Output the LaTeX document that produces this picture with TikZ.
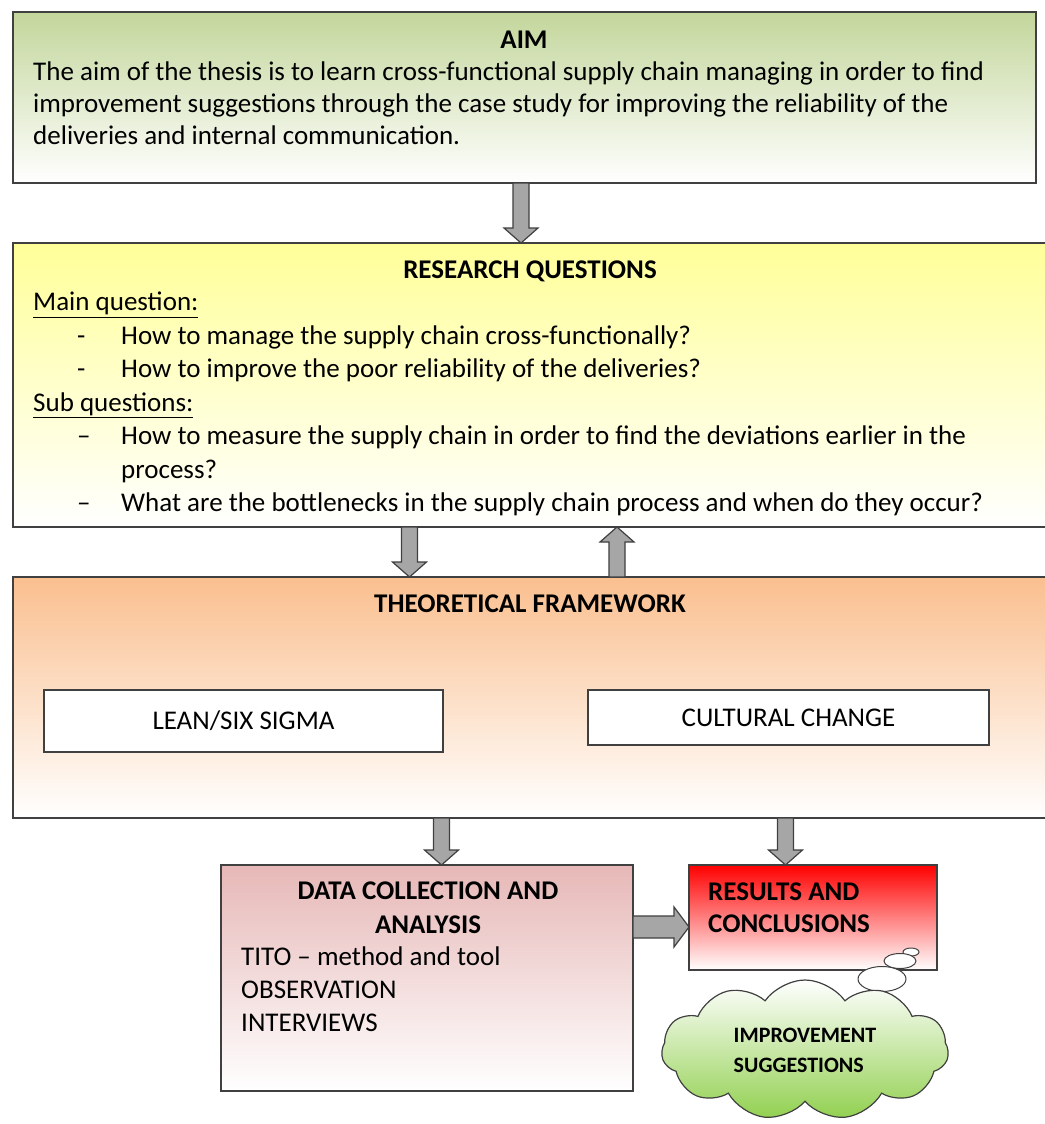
\documentclass[tikz,border=0pt]{standalone}
\usepackage{fontspec}
\setmainfont{Carlito}
\usetikzlibrary{calc,positioning,shapes.geometric,shapes.symbols}

\definecolor{aimgreen}{RGB}{195,214,155}
\definecolor{rqyellow}{RGB}{255,255,153}
\definecolor{tforange}{RGB}{250,191,143}
\definecolor{dcpink}{RGB}{230,184,183}
\definecolor{rcred}{RGB}{255,0,0}
\definecolor{cloudgreen}{RGB}{146,208,80}
\definecolor{boxline}{RGB}{64,64,64}
\definecolor{arrowgray}{RGB}{166,166,166}

\tikzset{
  box/.style={draw=boxline, line width=1.6pt, anchor=north west, inner sep=0pt, outer sep=0pt, bottom color=white},
  inbox/.style={draw=boxline, line width=1.4pt, fill=white, anchor=north west, inner sep=0pt, outer sep=0pt, font=\fontsize{27}{33}\selectfont},
  txt/.style={inner sep=0pt, anchor=north west, font=\fontsize{27}{33.5}\selectfont},
  ttl/.style={inner sep=0pt, anchor=base, font=\fontsize{27}{33}\selectfont\bfseries},
  fatarrow/.style={draw=boxline, fill=arrowgray, line width=1.2pt},
  bubble/.style={ellipse, draw=boxline, fill=white, line width=1pt, inner sep=0pt}
}

% block arrows: #1 = tip, #2 = node anchor where the shaft starts
\newcommand{\fatdown}[2]{%
  \draw[fatarrow] let \p1=#1, \p2=(#2) in
    (\x1-8pt,\y2) -- (\x1-8pt,\y1+15pt) -- (\x1-17pt,\y1+15pt) -- (\x1,\y1)
    -- (\x1+17pt,\y1+15pt) -- (\x1+8pt,\y1+15pt) -- (\x1+8pt,\y2) -- cycle;}
\newcommand{\fatup}[2]{%
  \draw[fatarrow] let \p1=#1, \p2=(#2) in
    (\x1-8pt,\y2) -- (\x1-8pt,\y1-15pt) -- (\x1-17pt,\y1-15pt) -- (\x1,\y1)
    -- (\x1+17pt,\y1-15pt) -- (\x1+8pt,\y1-15pt) -- (\x1+8pt,\y2) -- cycle;}
\newcommand{\fatright}[2]{%
  \draw[fatarrow] let \p1=#1, \p2=(#2) in
    (\x2,\y1+11pt) -- (\x1-15pt,\y1+11pt) -- (\x1-15pt,\y1+20pt) -- (\x1,\y1)
    -- (\x1-15pt,\y1-20pt) -- (\x1-15pt,\y1-11pt) -- (\x2,\y1-11pt) -- cycle;}

\begin{document}
\begin{tikzpicture}[x=1pt,y=-1pt]
  \useasboundingbox[fill=white] (0,0) rectangle (1044,1124);

  % boxes
  \node[box, top color=aimgreen, minimum width=1023pt, minimum height=171pt] (aim) at (13,12) {};
  \node[box, top color=rqyellow, minimum width=1037pt, minimum height=284pt] (rq) at (13,243) {};
  \node[box, top color=tforange, minimum width=1037pt, minimum height=241pt] (tf) at (13,577) {};
  \node[inbox, minimum width=399pt, minimum height=62pt] (lean) at (44,690) {LEAN/SIX SIGMA};
  \node[inbox, minimum width=401pt, minimum height=55pt] (cult) at (588,690) {CULTURAL CHANGE};
  \node[box, top color=dcpink, minimum width=412pt, minimum height=226pt] (dc) at (221,865) {};
  \node[box, top color=rcred, minimum width=248pt, minimum height=105pt] (rc) at (689,865) {};

  % texts
  \node[ttl] (aimttl) at (524,48.7) {AIM};
  \node[txt, font=\fontsize{27}{32}\selectfont] (aimtxt) at (33,58.3) {\begin{tabular}{@{}l@{}}
    The aim of the thesis is to learn cross-functional supply chain managing in order to find\\
    improvement suggestions through the case study for improving the reliability of the\\
    deliveries and internal communication.
  \end{tabular}};

  \node[ttl] (rqttl) at (530,278.7) {RESEARCH QUESTIONS};
  \node[txt] (rqtxt) at (33,287.3) {\begin{tabular}{@{}p{44pt}@{}p{44pt}@{}l@{}}
    \multicolumn{3}{@{}l@{}}{\underline{Main question:}}\\
    & - & How to manage the supply chain cross-functionally?\\
    & - & How to improve the poor reliability of the deliveries?\\
    \multicolumn{3}{@{}l@{}}{\underline{Sub questions:}}\\
    & -- & How to measure the supply chain in order to find the deviations earlier in the\\
    & & process?\\
    & -- & What are the bottlenecks in the supply chain process and when do they occur?
  \end{tabular}};

  \node[ttl] (tfttl) at (530,612.7) {THEORETICAL FRAMEWORK};

  \node[txt, anchor=north, font=\fontsize{27}{34}\selectfont\bfseries] (dcttl) at (428,875.9) {\begin{tabular}{@{}c@{}}
    DATA COLLECTION AND\\ ANALYSIS
  \end{tabular}};
  \node[txt, font=\fontsize{27}{33}\selectfont] (dctxt) at (241,942.6) {\begin{tabular}{@{}l@{}}
    TITO -- method and tool\\ OBSERVATION\\ INTERVIEWS
  \end{tabular}};

  \node[txt, font=\fontsize{27}{32}\selectfont\bfseries] (rctxt) at (708,878.3) {\begin{tabular}{@{}l@{}}
    RESULTS AND\\ CONCLUSIONS
  \end{tabular}};

  % thought bubbles and cloud
  \node[bubble, minimum width=16pt, minimum height=8pt] (b1) at (911,952) {};
  \node[bubble, minimum width=32pt, minimum height=15pt] (b2) at (900,961) {};
  \node[bubble, minimum width=48pt, minimum height=25pt] (b3) at (882,979) {};
  \node[cloud, cloud puffs=11, cloud puff arc=110, aspect=2, draw=boxline, line width=1.2pt,
        top color=white, bottom color=cloudgreen, minimum width=287pt, minimum height=140pt,
        inner sep=0pt, align=left, font=\fontsize{22}{30}\selectfont\bfseries] (cloud) at (805,1050)
        {IMPROVEMENT\\SUGGESTIONS};

  % block arrows
  \fatdown{([xshift=-10.5pt]rq.north)}{aim.south}
  \fatdown{([xshift=-122pt]tf.north)}{rq.south}
  \fatup{([xshift=85.5pt]rq.south)}{tf.north}
  \fatdown{([xshift=14.5pt]dc.north)}{tf.south}
  \fatdown{([xshift=-27.5pt]rc.north)}{tf.south}
  \fatright{([yshift=-9.5pt]rc.west)}{dc.east}
\end{tikzpicture}
\end{document}
